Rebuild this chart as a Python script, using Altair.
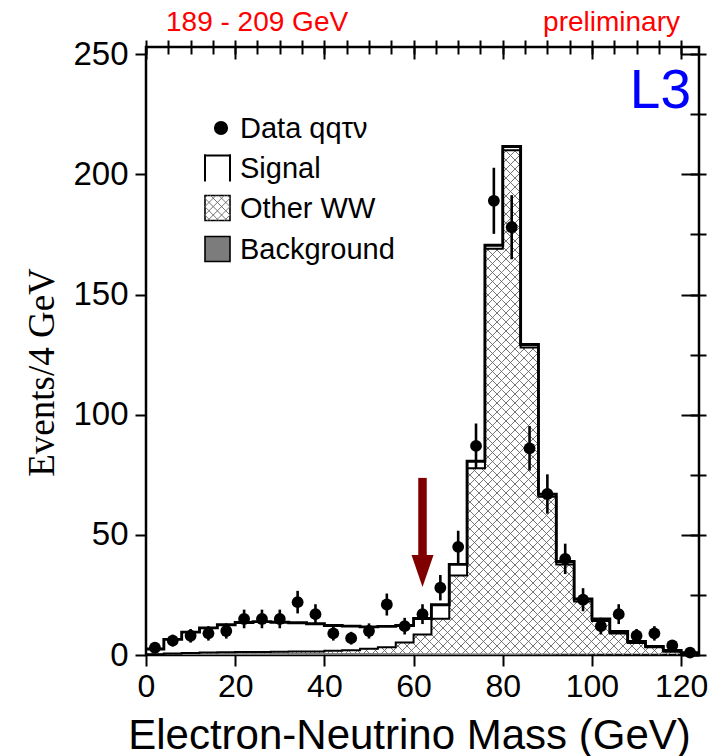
import math
import altair as alt
import pandas as pd

# ---------------- data ----------------
bin_lo = [0, 4, 8, 12, 16, 20, 24, 28, 32, 36, 40, 44, 48, 52, 56, 60,
          64, 68, 72, 76, 80, 84, 88, 92, 96, 100, 104, 108, 112, 116, 120]
bin_width = 4
data_counts = [3, 6, 8, 9, 10, 15, 15, 15, 22, 17, 9, 7, 10, 21, 12, 17,
               28, 45, 87, 189, 178, 86, 67, 40, 23, 12, 17, 8, 9, 4, 1]
total_mc = [2.5, 6.5, 9.5, 11.3, 12.6, 13.5, 13.9, 13.6, 13.4, 13.0, 12.3, 12.0,
            11.7, 11.9, 12.3, 15.2, 20.9, 37.7, 80.6, 170.5, 211.6, 129.2, 66.9,
            38.9, 23.3, 15.0, 9.8, 5.6, 3.6, 1.9, 1.0]
other_ww = [0.3, 0.6, 0.8, 1.0, 1.1, 1.2, 1.3, 1.4, 1.5, 1.5, 1.8, 2.0, 2.6,
            3.2, 5.2, 8.5, 15.1, 33.1, 77.7, 169.0, 210.0, 128.0, 65.9, 37.7,
            22.3, 14.2, 8.9, 5.0, 3.2, 1.4, 0.7]
background = [0.2, 0.3, 0.4, 0.5, 0.6, 0.7, 0.7, 0.8, 0.8, 0.8, 0.8, 0.8, 0.8,
              0.7, 0.7, 0.6, 0.6, 0.5, 0.5, 0.4, 0.4, 0.3, 0.3, 0.2, 0.2, 0.1,
              0.1, 0.1, 0.1, 0.0, 0.0]
x_major = [0, 20, 40, 60, 80, 100, 120]
x_minor = [0, 5, 10, 15, 20, 25, 30, 35, 40, 45, 50, 55, 60, 65, 70, 75, 80,
           85, 90, 95, 100, 105, 110, 115, 120]
y_major = [0, 50, 100, 150, 200, 250]
y_minor = [0, 25, 50, 75, 100, 125, 150, 175, 200, 225, 250]
arrow_x = [62]
arrow_top = [73.7]
arrow_base = [41.4]
arrow_head_mid = [35.0]

X_MAX, Y_MAX = 124, 253
W, H = 553, 608
kx, ky = W / X_MAX, H / Y_MAX

# ---------------- tables ----------------
bins = pd.DataFrame({
    "lo": bin_lo,
    "hi": [b + bin_width for b in bin_lo],
    "center": [b + bin_width / 2 for b in bin_lo],
    "n": data_counts,
    "tot": total_mc,
    "ww": other_ww,
    "bkg": background,
})
bins["err_lo"] = [n - math.sqrt(n) for n in data_counts]
bins["err_hi"] = [n + math.sqrt(n) for n in data_counts]

step_x = bin_lo + [bin_lo[-1] + bin_width]
steps = pd.DataFrame({"x": step_x,
                      "tot": total_mc + [total_mc[-1]],
                      "ww": other_ww + [other_ww[-1]]})

# cross hatch of the "Other WW" histogram, clipped to each bin (pixel-space 45 deg)
def hatch(lo, hi, tops, d=9.0):
    segs = []
    for a, b, h in zip(lo, hi, tops):
        X0, X1, Y0, Y1 = a * kx, b * kx, 0.0, h * ky
        if Y1 <= 0.5:
            continue
        for s in (1, -1):
            cs = [Y - s * X for X in (X0, X1) for Y in (Y0, Y1)]
            c = math.ceil(min(cs) / d) * d
            while c <= max(cs):
                xa, xb = sorted(((Y0 - c) * s, (Y1 - c) * s))
                l, r = max(X0, xa), min(X1, xb)
                if r - l > 1e-6:
                    segs.append((l / kx, (s * l + c) / ky, r / kx, (s * r + c) / ky))
                c += d
    return pd.DataFrame(segs, columns=["x", "y", "x2", "y2"])

hatch_df = hatch(bins["lo"], bins["hi"], bins["ww"])

xs = alt.Scale(domain=[0, X_MAX], nice=False, zero=False)
ys = alt.Scale(domain=[0, Y_MAX], nice=False, zero=False)
FONT = "Liberation Sans"

def X(f):
    return alt.X(f, scale=xs, axis=None)

def Y(f):
    return alt.Y(f, scale=ys, axis=None)

# ---------------- axis layers ----------------
def axis_layer(xaxis, yaxis):
    return alt.Chart(bins).mark_point(opacity=0).encode(
        x=alt.X("center:Q", scale=xs, axis=xaxis),
        y=alt.Y("n:Q", scale=ys, axis=yaxis),
    )

common = dict(domain=False, grid=False, tickColor="black", tickWidth=2)
main_axes = axis_layer(
    alt.Axis(values=x_major, tickSize=11, labelFont=FONT, labelFontSize=32,
             labelColor="black", labelPadding=5, labelFlush=False,
             title="Electron-Neutrino Mass (GeV)", titleFont=FONT,
             titleFontSize=42, titleFontWeight="normal", titleColor="black",
             titleX=263, titleY=93, titleAlign="center",
             titleBaseline="alphabetic", **common),
    alt.Axis(values=y_major, tickSize=11, labelFont=FONT, labelFontSize=33,
             labelColor="black", labelPadding=7, labelFlush=False,
             title="Events/4 GeV", titleFont="Liberation Serif",
             titleFontSize=37, titleFontWeight="normal", titleColor="black",
             titleAngle=270, titleX=-104, titleY=325, titleAlign="center",
             titleBaseline="middle", **common),
)
minor_axes = axis_layer(
    alt.Axis(values=x_minor, tickSize=7, labels=False, title=None, **common),
    alt.Axis(values=y_minor, tickSize=7, labels=False, title=None, **common),
)
inner_major = axis_layer(
    alt.Axis(orient="top", values=x_major, tickSize=12, offset=-12,
             labels=False, title=None, **common),
    alt.Axis(orient="right", values=y_major, tickSize=18, offset=-18,
             labels=False, title=None, **common),
)
inner_minor = axis_layer(
    alt.Axis(orient="top", values=x_minor, tickSize=7, offset=-7,
             labels=False, title=None, **common),
    alt.Axis(orient="right", values=y_minor, tickSize=9, offset=-9,
             labels=False, title=None, **common),
)

# ---------------- histogram layers ----------------
hatch_layer = alt.Chart(hatch_df).mark_rule(color="#666666", strokeWidth=0.9).encode(
    x=X("x:Q"), y=Y("y:Q"), x2="x2:Q", y2="y2:Q")

bkg_layer = alt.Chart(bins).mark_rect(color="#7c7c7c").encode(
    x=X("lo:Q"), x2="hi:Q", y=Y("bkg:Q"), y2=alt.datum(0))

ww_line = alt.Chart(steps).mark_line(color="black", strokeWidth=2,
                                     interpolate="step-after").encode(
    x=X("x:Q"), y=Y("ww:Q"))

tot_line = alt.Chart(steps).mark_line(color="black", strokeWidth=2.9,
                                      interpolate="step-after").encode(
    x=X("x:Q"), y=Y("tot:Q"))

err_layer = alt.Chart(bins).mark_rule(color="black", strokeWidth=2.6).encode(
    x=X("center:Q"), y=Y("err_lo:Q"), y2="err_hi:Q")

pts_layer = alt.Chart(bins).mark_circle(color="black", size=140, opacity=1).encode(
    x=X("center:Q"), y=Y("n:Q"))

arrow_df = pd.DataFrame({"x": arrow_x, "top": arrow_top, "base": arrow_base,
                         "mid": arrow_head_mid})
shaft = alt.Chart(arrow_df).mark_rule(color="#800000", strokeWidth=8.5,
                                      strokeCap="butt").encode(
    x=X("x:Q"), y=Y("top:Q"), y2="base:Q")
head = alt.Chart(arrow_df).mark_point(
    shape="M-1,-1.4545L1,-1.4545L0,1.4545Z", size=484, filled=True,
    color="#800000", opacity=1, strokeWidth=0).encode(
    x=X("x:Q"), y=Y("mid:Q"))

# ---------------- legend (drawn inside the frame) ----------------
one = pd.DataFrame({"a": [0]})
def txt(text, x, y, size, color="black", align="left", font=FONT, baseline="alphabetic"):
    return alt.Chart(one).mark_text(text=text, font=font, fontSize=size, color=color,
                                    align=align, baseline=baseline).encode(
        x=alt.value(x), y=alt.value(y))

def rule(x1, y1, x2, y2, color="black", w=2.0):
    return alt.Chart(one).mark_rule(color=color, strokeWidth=w, strokeCap="square").encode(
        x=alt.value(x1), x2=alt.value(x2), y=alt.value(y1), y2=alt.value(y2))

def box(x1, y1, x2, y2, fill):
    return alt.Chart(one).mark_rect(fill=fill, stroke="black", strokeWidth=1.6).encode(
        x=alt.value(x1), x2=alt.value(x2), y=alt.value(y1), y2=alt.value(y2))

LX0, LX1 = 59, 84
rows = [81, 121, 161, 202]
LFS = 29
legend = [
    alt.Chart(one).mark_circle(color="black", size=200, opacity=1).encode(
        x=alt.value(75), y=alt.value(rows[0])),
    txt("Data qq\u03c4\u03bd", 94, rows[0] + 10, LFS),
    rule(LX0, rows[1] - 12.5, LX0, rows[1] + 12.5),
    rule(LX0, rows[1] - 12.5, LX1, rows[1] - 12.5),
    rule(LX1, rows[1] - 12.5, LX1, rows[1] + 12.5),
    txt("Signal", 94, rows[1] + 10, LFS),
    box(LX0, rows[2] - 12.5, LX1, rows[2] + 12.5, "white"),
    txt("Other WW", 94, rows[2] + 10, LFS),
    box(LX0, rows[3] - 12.5, LX1, rows[3] + 12.5, "#7c7c7c"),
    txt("Background", 94, rows[3] + 10, LFS),
]
# hatch inside the "Other WW" legend box
by0, by1 = rows[2] - 12.5, rows[2] + 12.5
d = 8.4
for s in (1, -1):
    cs = [Yv - s * Xv for Xv in (LX0, LX1) for Yv in (by0, by1)]
    c = math.ceil(min(cs) / d) * d
    while c <= max(cs):
        xa, xb = sorted(((by0 - c) * s, (by1 - c) * s))
        l, r = max(LX0, xa), min(LX1, xb)
        if r - l > 0.5:
            legend.append(rule(l, s * l + c, r, s * r + c, color="#666666", w=0.9))
        c += d

texts = [
    txt("189 - 209 GeV", 20, -16, 28, color="#ff0000"),
    txt("preliminary", 534, -16, 28, color="#ff0000", align="right"),
    txt("L3", 545, 61, 55, color="#0000ff", align="right"),
]

chart = alt.layer(
    main_axes, minor_axes, inner_major, inner_minor,
    hatch_layer, bkg_layer, ww_line, tot_line, err_layer, pts_layer,
    shaft, head, *legend, *texts,
).resolve_axis(x="independent", y="independent").properties(
    width=W, height=H,
    autosize=alt.AutoSizeParams(type="none"),
    padding={"left": 146, "top": 47, "right": 724 - 146 - W, "bottom": 756 - 47 - H},
    background="white",
).configure_view(stroke="black", strokeWidth=2.5)

chart.save("out.html", embed_options={"renderer": "svg", "actions": False})
